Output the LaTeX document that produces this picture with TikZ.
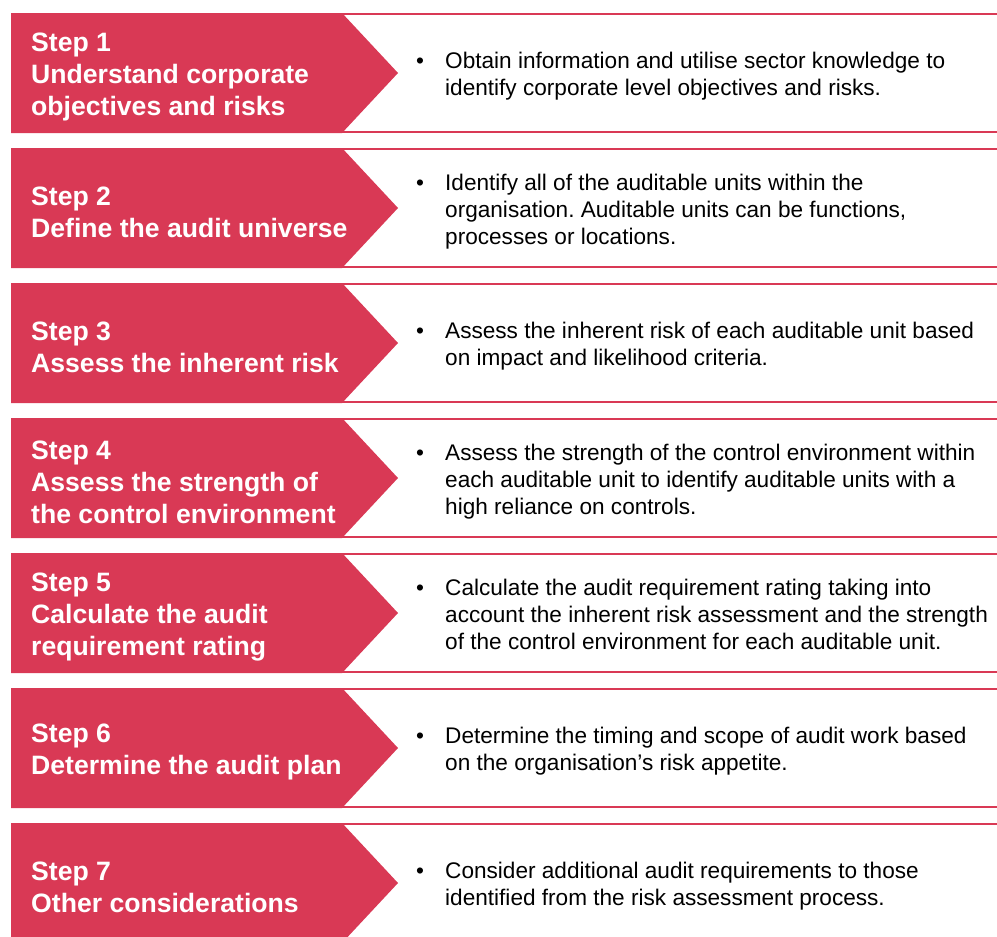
\documentclass[tikz,border=0pt]{standalone}
\usepackage{fontspec}
\setmainfont{Liberation Sans}
\usepackage{xcolor}
\usepackage{tikz}
\frenchspacing
\definecolor{stepred}{RGB}{217,57,85}
\tikzset{
  steplabel/.style={anchor=west,align=left,inner sep=0pt,text=white,
    font=\bfseries\fontsize{26.6}{32}\selectfont},
  stepnote/.style={anchor=west,inner sep=0pt,font=\fontsize{22.6}{26.7}\selectfont},
}
\newcommand{\notelines}[1]{\begin{tabular}{@{}p{29pt}@{}l@{}}\textbullet & \begin{tabular}[t]{@{}l@{}}#1\end{tabular}\end{tabular}}

\begin{document}
\begin{tikzpicture}[x=1pt,y=-1pt]
            \clip (0,0) rectangle (997,937);
            %绘制七个红色箭头和右侧的红线
            \foreach \i in {1,2,...,7}{
                \pgfmathsetmacro{\t}{13+135*(\i-1)}
                \fill[stepred] (11,\t) -- (342,\t) -- (398,\t+60) -- (342,\t+120) -- (11,\t+120) -- cycle;
                \draw[stepred,line width=2pt] (342,\t+1) -- (997,\t+1) (342,\t+119) -- (997,\t+119);
            }
            %绘制每一步的标题
            \node[steplabel] (s1) at (31,77) {Step 1\\Understand corporate\\objectives and risks};
            \node[steplabel] (s2) at (31,212) {Step 2\\Define the audit universe};
            \node[steplabel] (s3) at (31,347) {Step 3\\Assess the inherent risk};
            \node[steplabel] (s4) at (31,482) {Step 4\\Assess the strength of\\the control environment};
            \node[steplabel] (s5) at (31,617) {Step 5\\Calculate the audit\\requirement rating};
            \node[steplabel] (s6) at (31,752) {Step 6\\Determine the audit plan};
            \node[steplabel] (s7) at (31,887) {Step 7\\Other considerations};
            %绘制每一步的说明
            \node[stepnote] (d1) at (416,77) {\notelines{Obtain information and utilise sector knowledge to\\identify corporate level objectives and risks.}};
            \node[stepnote] (d2) at (416,212) {\notelines{Identify all of the auditable units within the\\organisation. Auditable units can be functions,\\processes or locations.}};
            \node[stepnote] (d3) at (416,347) {\notelines{Assess the inherent risk of each auditable unit based\\on impact and likelihood criteria.}};
            \node[stepnote] (d4) at (416,482) {\notelines{Assess the strength of the control environment within\\each auditable unit to identify auditable units with a\\high reliance on controls.}};
            \node[stepnote] (d5) at (416,617) {\notelines{Calculate the audit requirement rating taking into\\account the inherent risk assessment and the strength\\of the control environment for each auditable unit.}};
            \node[stepnote] (d6) at (416,752) {\notelines{Determine the timing and scope of audit work based\\on the organisation’s risk appetite.}};
            \node[stepnote] (d7) at (416,887) {\notelines{Consider additional audit requirements to those\\identified from the risk assessment process.}};
        \end{tikzpicture}
\end{document}
